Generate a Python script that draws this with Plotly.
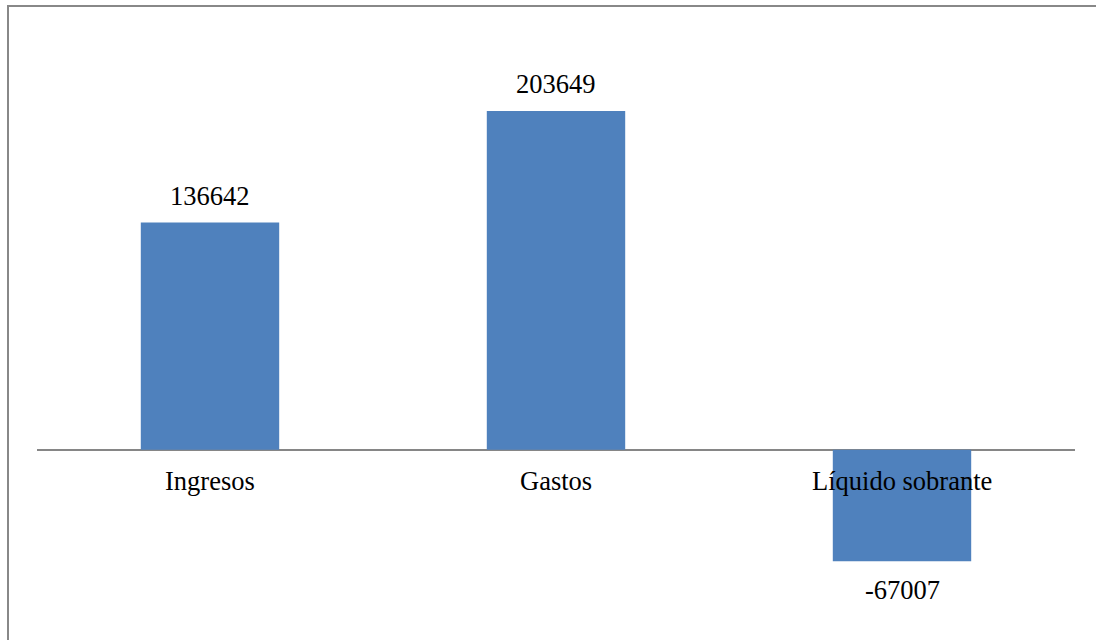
import plotly.graph_objects as go

categories = ["Ingresos", "Gastos", "Líquido sobrante"]
values = [136642, 203649, -67007]
labels = ["136642", "203649", "-67007"]

W, H = 1096, 640
ml, mr, mt, mb = 37, 21, 34, 24
y_min, y_max = -100000, 250000

fig = go.Figure()
fig.add_trace(go.Bar(
    x=categories, y=values,
    marker=dict(color="#4F81BD", line=dict(width=0)),
    width=0.4, hoverinfo="skip",
))

font = dict(family="Liberation Serif, Times New Roman, serif", size=26.5, color="#000000")

# data labels
for c, v, t in zip(categories, values, labels):
    fig.add_annotation(
        x=c, y=v, xref="x", yref="y", text=t, showarrow=False, font=font,
        yanchor="middle", yshift=27 if v >= 0 else -29,
    )
# category labels below zero line
for c in categories:
    fig.add_annotation(
        x=c, y=0, xref="x", yref="y", text=c, showarrow=False, font=font,
        yanchor="middle", yshift=-31,
    )

plot_w = W - ml - mr
plot_h = H - mt - mb
# outer border (chart area frame)
fig.add_shape(
    type="rect", xref="paper", yref="paper",
    x0=(8 - ml) / plot_w, x1=1.2,
    y0=-0.2, y1=1 + (mt - 6) / plot_h,
    line=dict(color="#888888", width=2), fillcolor="rgba(0,0,0,0)", layer="below",
)

fig.update_layout(
    width=W, height=H,
    margin=dict(l=ml, r=mr, t=mt, b=mb, pad=0),
    paper_bgcolor="white", plot_bgcolor="white",
    showlegend=False, bargap=0.6,
    xaxis=dict(showticklabels=False, showgrid=False, zeroline=False, showline=False, ticks=""),
    yaxis=dict(range=[y_min, y_max], showticklabels=False, showgrid=False,
               zeroline=True, zerolinecolor="#868686", zerolinewidth=2,
               showline=False, ticks=""),
)

fig.write_html(
    "out.html",
    config={"displayModeBar": False},
    post_script="document.body.style.margin='0';document.body.style.overflow='hidden';",
)
